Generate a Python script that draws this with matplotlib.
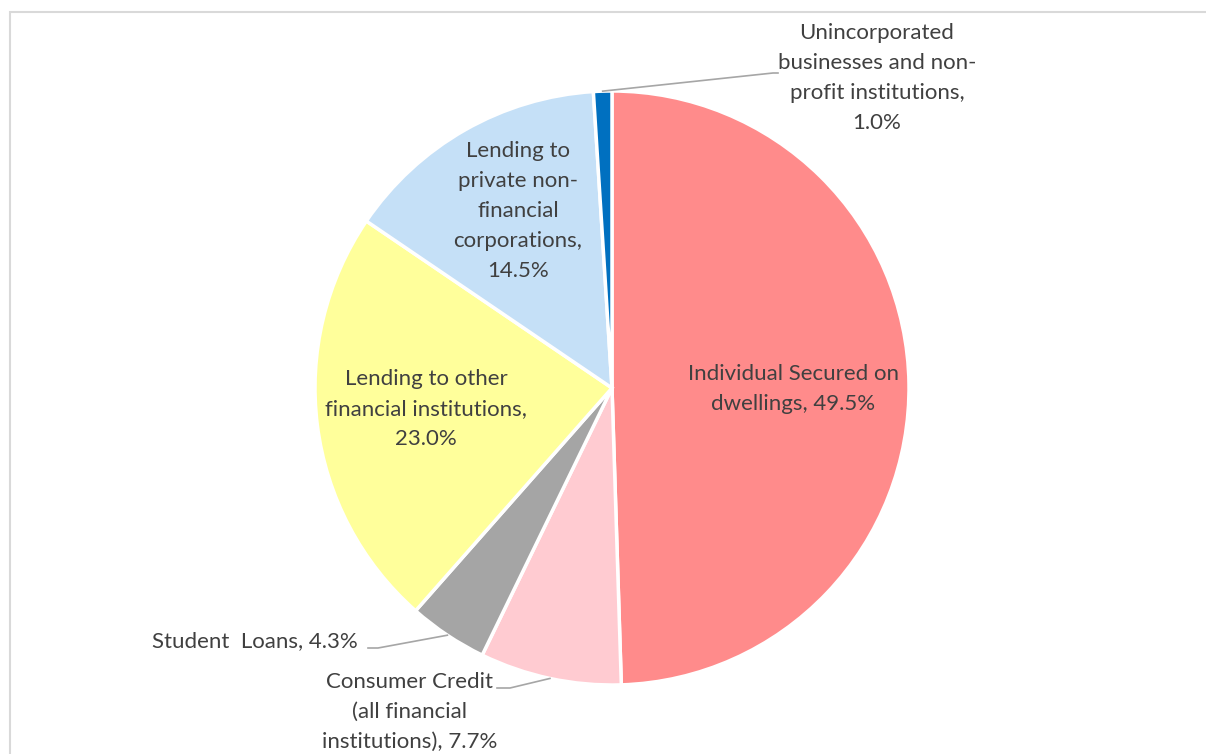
import numpy as np
import matplotlib.pyplot as plt
from matplotlib.patches import Rectangle

labels = ['Individual Secured on\ndwellings, 49.5%',
          'Consumer Credit\n(all financial\ninstitutions), 7.7%',
          'Student  Loans, 4.3%',
          'Lending to other\nfinancial institutions,\n23.0%',
          'Lending to\nprivate non-\nfinancial\ncorporations,\n14.5%',
          'Unincorporated\nbusinesses and non-\nprofit institutions,\n1.0%']
shares = [49.5, 7.7, 4.3, 23.0, 14.5, 1.0]
colors = ['#FF8B8B', '#FFCBD1', '#A5A5A5', '#FFFF9B', '#C5E0F7', '#0070C0']

W, H = 1206, 754
cx, cy, r = 612, H - 388, 297
text_color = '#404040'
line_color = '#A6A6A6'

fig = plt.figure(figsize=(W / 100, H / 100), dpi=100)
ax = fig.add_axes([0, 0, 1, 1])

# chart frame (cut off at right and bottom like the screenshot)
ax.add_patch(Rectangle((10, -20), W + 20, H - 12 + 20, fill=False,
                       edgecolor='#D9D9D9', linewidth=1.5))

wedges, _ = ax.pie(shares, colors=colors, startangle=90, counterclock=False,
                   center=(cx, cy), radius=r, frame=True,
                   wedgeprops=dict(edgecolor='white', linewidth=2.5))
ax.set_xlim(0, W)
ax.set_ylim(0, H)
ax.set_aspect('equal')
ax.axis('off')

font = dict(family=['Lato', 'DejaVu Sans'], fontsize=16, color=text_color,
            linespacing=1.62)

# inside labels
inside = {0: (793, 389), 3: (426, 409), 4: (518, 211)}
for i, (x, y) in inside.items():
    ax.text(x, H - y, labels[i], ha='center', va='center', multialignment='center', **font)

def edge_point(i):
    w = wedges[i]
    ang = np.deg2rad((w.theta1 + w.theta2) / 2)
    return cx + r * np.cos(ang), cy + r * np.sin(ang)

# outside labels with leader lines: (text x, text y, ha, elbow x, elbow y, end x)
outside = {
    5: (877, 78, 'center', 773, 73, 778),
    2: (358, 641, 'right', 378, 648, 368),
    1: (410, 712, 'center', 510, 688, 497),
}
for i, (tx, ty, ha, ex, ey, endx) in outside.items():
    px, py = edge_point(i)
    ax.plot([px, ex, endx], [py, H - ey, H - ey], color=line_color, linewidth=1.2)
    ax.text(tx, H - ty, labels[i], ha=ha, va='center', multialignment='center', **font)

fig.savefig('out.png', dpi=100)
